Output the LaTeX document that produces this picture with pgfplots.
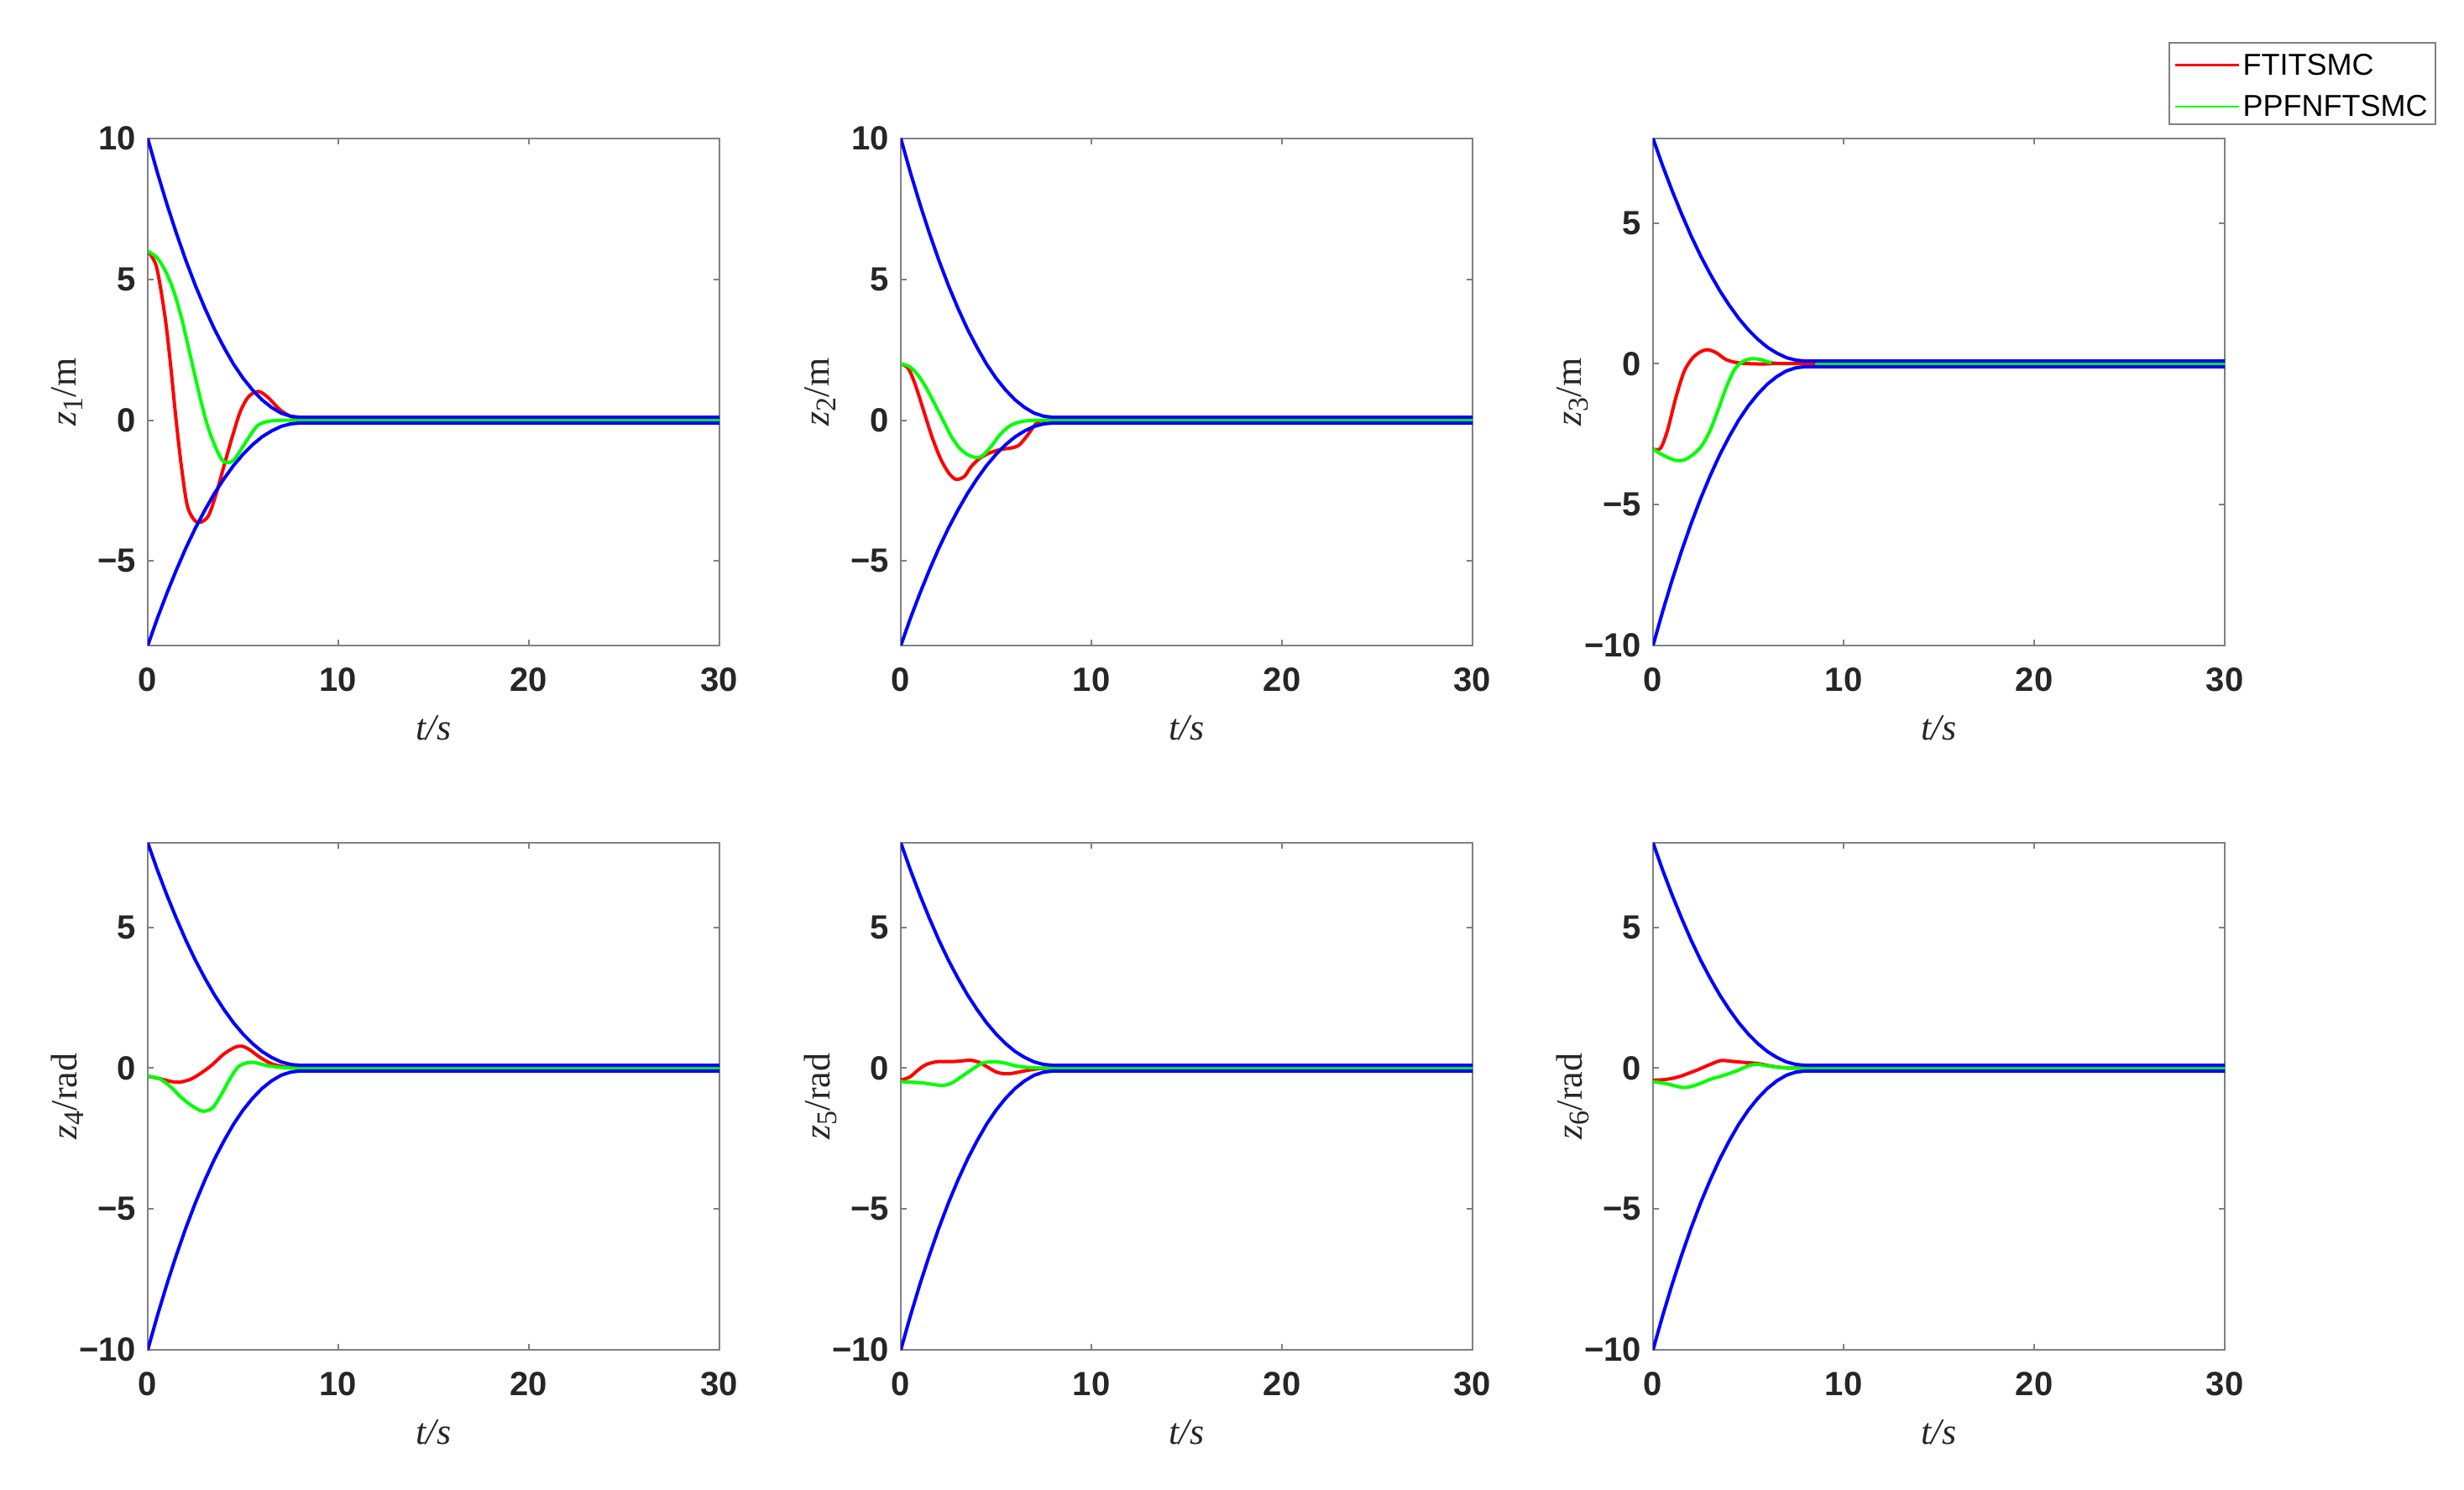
\documentclass[border=0pt]{standalone}
\usepackage{fontspec}
\setmainfont{Liberation Sans}
\newfontfamily\tnr{Liberation Serif}
\usepackage{pgfplots}
\pgfplotsset{compat=1.18}
\definecolor{axgray}{RGB}{128,128,128}
\definecolor{txt}{RGB}{38,38,38}
\newcommand{\zl}[2]{{\tnr\itshape z}{\tnr\raisebox{-0.4ex}{\fontsize{8.5}{9}\selectfont #1}/#2}}
\pgfplotsset{
 myax/.style={
  scale only axis, width=170.25pt, height=151pt,
  xmin=0, xmax=30, xtick={0,10,20,30}, xticklabels={0,10,20,30},
  tick align=inside, xtick pos=both, ytick pos=both,
  xticklabel pos=lower, yticklabel pos=left,
  major tick length=1.75pt,
  axis line style={axgray, line width=0.5pt},
  every tick/.style={axgray, line width=0.5pt},
  tick label style={font=\fontsize{10}{12}\selectfont\bfseries, text=txt},
  xticklabel style={yshift=-3pt},
  xlabel={{\tnr\itshape t/s}},
  xlabel style={at={(axis description cs:0.5,-0.1627)}, anchor=center, font=\fontsize{11}{13}\selectfont, text=txt},
  ylabel style={at={(axis description cs:-0.141,0.5)}, anchor=center, font=\fontsize{11}{13}\selectfont, text=txt},
  every axis plot/.append style={line width=1pt},
 },
 topax/.style={ymin=-8, ymax=10, ytick={-5,0,5,10}, yticklabels={−5,0,5,10}},
 botax/.style={ymin=-10, ymax=8, ytick={-10,-5,0,5}, yticklabels={−10,−5,0,5}},
}
\newcommand{\bluetop}{%
\addplot[blue, forget plot] coordinates {(0,10) (0.5,8.80) (1,7.68) (1.5,6.64) (2,5.67) (2.5,4.78) (3,3.97) (3.5,3.23) (4,2.58) (4.5,1.99) (5,1.49) (5.5,1.07) (6,0.72) (6.5,0.45) (7,0.25) (7.5,0.14) (8,0.1) (30,0.1)};
\addplot[blue, forget plot] coordinates {(0,-8) (0.5,-7.04) (1,-6.15) (1.5,-5.32) (2,-4.54) (2.5,-3.83) (3,-3.19) (3.5,-2.60) (4,-2.08) (4.5,-1.61) (5,-1.21) (5.5,-0.87) (6,-0.59) (6.5,-0.38) (7,-0.22) (7.5,-0.13) (8,-0.1) (30,-0.1)};
}
\newcommand{\bluebot}{%
\addplot[blue, forget plot] coordinates {(0,8) (0.5,7.04) (1,6.15) (1.5,5.32) (2,4.54) (2.5,3.83) (3,3.19) (3.5,2.60) (4,2.08) (4.5,1.61) (5,1.21) (5.5,0.87) (6,0.59) (6.5,0.38) (7,0.22) (7.5,0.13) (8,0.1) (30,0.1)};
\addplot[blue, forget plot] coordinates {(0,-10) (0.5,-8.80) (1,-7.68) (1.5,-6.64) (2,-5.67) (2.5,-4.78) (3,-3.97) (3.5,-3.23) (4,-2.58) (4.5,-1.99) (5,-1.49) (5.5,-1.07) (6,-0.72) (6.5,-0.45) (7,-0.25) (7.5,-0.14) (8,-0.1) (30,-0.1)};
}
\begin{document}
\begin{tikzpicture}
\path[use as bounding box] (0,0) rectangle (733.75pt,-443.75pt);
% plot 1
\begin{axis}[myax, topax, at={(44pt,-41.25pt)}, anchor=north west, ylabel={\zl{1}{m}}]
\addplot[red, smooth] coordinates {(0,6) (0.46,5.44) (0.90,3.70) (1.20,1.95) (1.49,-0.02) (1.79,-1.77) (2.08,-3.05) (2.45,-3.55) (2.78,-3.62) (3.18,-3.40) (3.55,-2.70) (3.99,-1.65) (4.43,-0.60) (4.87,0.33) (5.31,0.85) (5.82,1.02) (6.34,0.79) (6.92,0.38) (7.51,0.13) (8.10,0.02) (9,0)};
\addplot[green, smooth] coordinates {(0,6) (0.46,5.79) (0.90,5.33) (1.34,4.63) (1.79,3.58) (2.23,2.30) (2.67,1.02) (3.11,-0.14) (3.55,-0.95) (3.91,-1.42) (4.21,-1.51) (4.50,-1.42) (4.87,-1.07) (5.31,-0.60) (5.75,-0.20) (6.19,-0.06) (6.78,-0.01) (7.66,0) (8.5,0)};
\addplot[red, forget plot] coordinates {(9,0) (30,0)};
\addplot[green, forget plot] coordinates {(8.5,0) (30,0)};
\bluetop
\end{axis}
% plot 2
\begin{axis}[myax, topax, at={(268.25pt,-41.25pt)}, anchor=north west, ylabel={\zl{2}{m}}]
\addplot[red, smooth] coordinates {(0,2) (0.39,1.84) (0.76,1.26) (1.20,0.33) (1.64,-0.60) (2.08,-1.36) (2.52,-1.88) (2.90,-2.10) (3.33,-2.00) (3.69,-1.65) (4.13,-1.36) (4.57,-1.19) (5.16,-1.05) (5.75,-0.99) (6.18,-0.90) (6.63,-0.55) (7.07,-0.14) (7.36,-0.02) (8,0)};
\addplot[green, smooth] coordinates {(0,2) (0.46,1.90) (0.90,1.60) (1.34,1.14) (1.79,0.56) (2.23,-0.02) (2.67,-0.60) (3.11,-1.01) (3.55,-1.24) (3.99,-1.33) (4.28,-1.26) (4.72,-0.95) (5.16,-0.55) (5.60,-0.26) (6.04,-0.10) (6.63,-0.02) (7.36,0) (8,0)};
\addplot[red, forget plot] coordinates {(8,0) (30,0)};
\addplot[green, forget plot] coordinates {(8,0) (30,0)};
\bluetop
\end{axis}
% plot 3
\begin{axis}[myax, botax, at={(492.25pt,-41.25pt)}, anchor=north west, ylabel={\zl{3}{m}},
  legend style={at={(0.9016,1.191)}, anchor=north west, draw=axgray, line width=0.5pt,
    font=\fontsize{9}{10}\selectfont, text=black, inner xsep=1.5pt, inner ysep=1.6pt,
    nodes={inner sep=0.8pt, text height=7.2pt, text depth=0pt}, cells={anchor=west}, row sep=3.6pt},
  legend image code/.code={\draw[#1, line width=0.6pt] (0pt,-0.7pt) -- (19pt,-0.7pt);}]
\addplot[red, smooth] coordinates {(0,-3.03) (0.39,-3.0) (0.76,-2.36) (1.20,-1.19) (1.64,-0.26) (2.08,0.21) (2.52,0.44) (2.89,0.50) (3.33,0.39) (3.84,0.15) (4.43,0.04) (5.31,0) (6.2,0)};
\addlegendentry{FTITSMC}
\addplot[green, smooth] coordinates {(0,-3.03) (0.61,-3.27) (1.20,-3.43) (1.64,-3.41) (2.08,-3.23) (2.52,-2.94) (2.96,-2.42) (3.40,-1.66) (3.84,-0.84) (4.28,-0.20) (4.72,0.09) (5.16,0.18) (5.60,0.16) (6.04,0.07) (6.63,0.01) (7.66,0) (8.5,0)};
\addlegendentry{PPFNFTSMC}
\addplot[red, forget plot] coordinates {(6.2,0) (30,0)};
\addplot[green, forget plot] coordinates {(8.5,0) (30,0)};
\bluebot
\end{axis}
% plot 4
\begin{axis}[myax, botax, at={(44pt,-251pt)}, anchor=north west, ylabel={\zl{4}{rad}}]
\addplot[red, smooth] coordinates {(0,-0.29) (0.61,-0.37) (1.20,-0.47) (1.64,-0.50) (2.23,-0.40) (2.81,-0.17) (3.40,0.13) (3.99,0.50) (4.57,0.74) (4.94,0.78) (5.31,0.67) (5.90,0.38) (6.48,0.16) (7.07,0.06) (7.80,0) (8.6,0)};
\addplot[green, smooth] coordinates {(0,-0.29) (0.61,-0.37) (1.20,-0.66) (1.79,-1.06) (2.37,-1.36) (2.89,-1.53) (3.40,-1.41) (3.84,-0.96) (4.28,-0.42) (4.72,0.03) (5.16,0.18) (5.60,0.20) (6.19,0.10) (6.92,0.03) (7.80,0) (8.6,0)};
\addplot[red, forget plot] coordinates {(8.6,0) (30,0)};
\addplot[green, forget plot] coordinates {(8.6,0) (30,0)};
\bluebot
\end{axis}
% plot 5
\begin{axis}[myax, botax, at={(268.25pt,-251pt)}, anchor=north west, ylabel={\zl{5}{rad}}]
\addplot[red, smooth] coordinates {(0,-0.42) (0.46,-0.32) (0.90,-0.07) (1.34,0.13) (1.93,0.23) (2.67,0.23) (3.25,0.26) (3.69,0.28) (4.13,0.20) (4.57,0.03) (5.02,-0.14) (5.46,-0.20) (5.90,-0.18) (6.48,-0.10) (7.22,-0.02) (7.95,0) (8.7,0)};
\addplot[green, smooth] coordinates {(0,-0.48) (0.61,-0.50) (1.20,-0.53) (1.79,-0.59) (2.23,-0.61) (2.67,-0.53) (3.25,-0.27) (3.84,0) (4.28,0.18) (4.87,0.23) (5.46,0.18) (6.04,0.08) (6.78,0.02) (7.66,0) (8.5,0)};
\addplot[red, forget plot] coordinates {(8.7,0) (30,0)};
\addplot[green, forget plot] coordinates {(8.5,0) (30,0)};
\bluebot
\end{axis}
% plot 6
\begin{axis}[myax, botax, at={(492.25pt,-251pt)}, anchor=north west, ylabel={\zl{6}{rad}}]
\addplot[red, smooth] coordinates {(0,-0.43) (0.69,-0.40) (1.38,-0.30) (2.30,-0.07) (2.99,0.13) (3.57,0.27) (4.15,0.24) (4.84,0.20) (5.53,0.16) (6.22,0.07) (6.91,0.01) (7.60,0) (8.4,0)};
\addplot[green, smooth] coordinates {(0,-0.48) (0.69,-0.55) (1.61,-0.69) (2.30,-0.59) (2.99,-0.40) (3.69,-0.26) (4.38,-0.10) (5.07,0.10) (5.53,0.13) (6.22,0.06) (6.91,0.01) (7.60,0) (8.4,0)};
\addplot[red, forget plot] coordinates {(8.4,0) (30,0)};
\addplot[green, forget plot] coordinates {(8.4,0) (30,0)};
\bluebot
\end{axis}
\end{tikzpicture}
\end{document}
